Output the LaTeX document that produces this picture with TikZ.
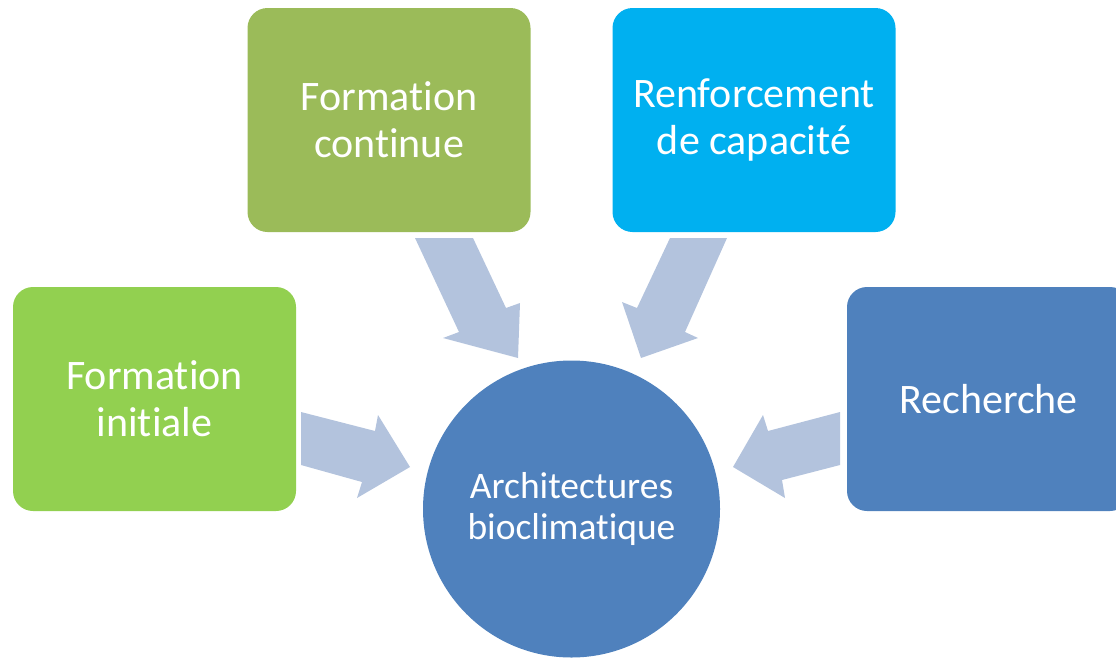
\documentclass[tikz,border=0pt]{standalone}
\usepackage{fontspec}
\setmainfont{Carlito}[Ligatures=NoCommon]
\usetikzlibrary{positioning}

\definecolor{initgreen}{HTML}{92D050}
\definecolor{contgreen}{HTML}{9BBB59}
\definecolor{renfblue}{HTML}{00B0F0}
\definecolor{archblue}{HTML}{4F81BD}
\definecolor{flowblue}{HTML}{B3C3DD}

\begin{document}
\begin{tikzpicture}[x=1pt, y=-1pt,
    box/.style={rounded corners=20pt, minimum width=283pt, minimum height=224pt,
        text=white, align=center, inner sep=0pt,
        font=\fontsize{42}{47}\selectfont},
    hub/.style={circle, minimum size=297pt, inner sep=0pt, fill=archblue,
        text=white, align=center, font=\fontsize{37.5}{41}\selectfont},
    flow/.style={fill=flowblue, draw=none},
]
    \useasboundingbox (0,0) rectangle (1116,659);

    % the four boxes and the hub
    \node [box, fill=initgreen] (init) at (154.5,399) {Formation\\initiale};
    \node [box, fill=contgreen] (cont) at (389,120) {Formation\\continue};
    \node [box, fill=renfblue] (renf) at (754,120) {Renforcement\\de capacité};
    \node [box, fill=archblue] (rech) at (988.5,399) {Recherche};
    \node [hub] (arch) at (571.5,509) {Architectures\\bioclimatique};

    % block arrows into the hub
    \fill [flow] (301,412) -- (375,431) -- (378,415) -- (410,467)
        -- (357,498) -- (362,482) -- (301,465) -- cycle;
    \fill [flow] (415,238) -- (473,238) -- (506,308) -- (520,303)
        -- (518,358) -- (443,338) -- (459,332) -- cycle;
    \fill [flow] (727,238) -- (670,238) -- (637,308) -- (622,302)
        -- (641,358) -- (698,338) -- (685,332) -- cycle;
    \fill [flow] (840,412) -- (768,431) -- (763,415) -- (733,467)
        -- (785,498) -- (782,480) -- (840,465) -- cycle;
\end{tikzpicture}
\end{document}
